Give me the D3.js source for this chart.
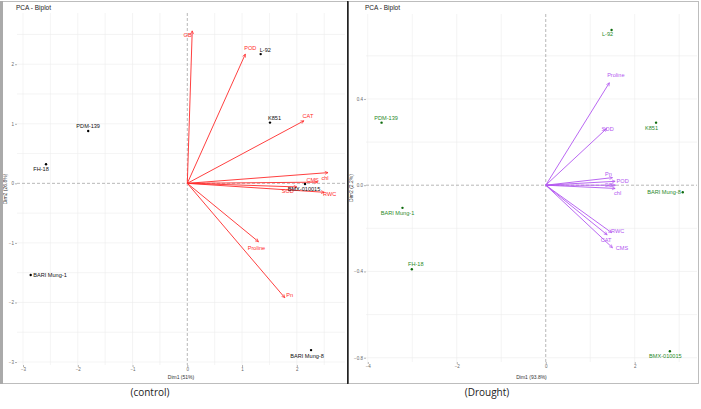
<!DOCTYPE html>
<html>
<head>
<meta charset="utf-8">
<script src="https://cdn.jsdelivr.net/npm/d3@7"></script>
<style>
  body { margin: 0; background: #fff; }
  svg { display: block; font-family: "Liberation Sans", Arial, sans-serif; }
</style>
</head>
<body>
<svg id="chart" width="701" height="409"></svg>
<script>
// ---- control panel data ----
var ctrlGenotypes = ["PDM-139", "FH-18", "BARI Mung-1", "L-92", "K851", "BMX-010015", "BARI Mung-8"];
var ctrlDim1 = [-1.81, -2.58, -2.86, 1.34, 1.51, 2.15, 2.26];
var ctrlDim2 = [0.88, 0.32, -1.54, 2.17, 1.02, -0.01, -2.80];
var ctrlVars = ["GB", "POD", "CAT", "chl", "CMS", "SOD", "RWC", "Proline", "Pn"];
var ctrlVarDim1 = [0.09, 1.06, 2.13, 2.57, 2.38, 2.00, 2.50, 1.30, 1.78];
var ctrlVarDim2 = [2.56, 2.17, 1.05, 0.18, 0.02, -0.06, -0.15, -0.98, -1.92];
var ctrlXTicks = [-3, -2, -1, 0, 1, 2];
var ctrlYTicks = [-3, -2, -1, 0, 1, 2];

// ---- drought panel data ----
var drGenotypes = ["L-92", "PDM-139", "K851", "BARI Mung-8", "BARI Mung-1", "FH-18", "BMX-010015"];
var drDim1 = [1.48, -3.69, 2.48, 3.08, -3.22, -3.01, 2.79];
var drDim2 = [0.72, 0.29, 0.29, -0.033, -0.105, -0.39, -0.77];
var drVars = ["Proline", "SOD", "Pn", "POD", "GB", "chl", "RWC", "CAT", "CMS"];
var drVarDim1 = [1.43, 1.37, 1.50, 1.56, 1.57, 1.56, 1.48, 1.38, 1.50];
var drVarDim2 = [0.475, 0.263, 0.035, 0.018, 0.0, -0.015, -0.22, -0.23, -0.29];
var drXTicks = [-4, -2, 0, 2];
var drYTicks = [-0.8, -0.4, 0, 0.4];

// label nudges [dx, dy, anchor]
var ctrlPointNudge = {
  "PDM-139": [0, -3, "middle"], "FH-18": [-5, 7, "middle"], "BARI Mung-1": [2.5, 2, "start"],
  "L-92": [-1, -2, "start"], "K851": [-2, -2.5, "start"], "BMX-010015": [-1, 7, "middle"],
  "BARI Mung-8": [-4, 7.5, "middle"]
};
var ctrlVarNudge = {
  "GB": [-4.6, 6.5, "middle"], "POD": [5, -4, "middle"], "CAT": [4, -3, "middle"],
  "chl": [-3, 7.5, "middle"], "CMS": [-5, 0, "middle"], "SOD": [-9, 6.5, "middle"],
  "RWC": [5.5, 4, "middle"], "Proline": [-2, 8, "middle"], "Pn": [5, -1, "middle"]
};
var drPointNudge = {
  "L-92": [-4, 6.5, "middle"], "PDM-139": [4.5, -2.5, "middle"], "K851": [-4.5, 7, "middle"],
  "BARI Mung-8": [-2, 2, "end"], "BARI Mung-1": [-5, 7, "middle"], "FH-18": [4, -3, "middle"],
  "BMX-010015": [-4.5, 7, "middle"]
};
var drVarNudge = {
  "Proline": [6.5, -6, "middle"], "SOD": [1, 3, "middle"], "Pn": [-4, -1.5, "middle"],
  "POD": [7.5, 2, "middle"], "GB": [-7, 1.5, "middle"], "chl": [2.5, 7, "middle"],
  "RWC": [6, 0, "middle"], "CAT": [-1, 7, "middle"], "CMS": [9.5, 2, "middle"]
};

var svg = d3.select("#chart");
var defs = svg.append("defs");

function makeArrow(id, col) {
  defs.append("marker")
      .attr("id", id)
      .attr("viewBox", "-6 -4 8 8")
      .attr("markerWidth", 5)
      .attr("markerHeight", 5)
      .attr("markerUnits", "userSpaceOnUse")
      .attr("orient", "auto")
    .append("path")
      .attr("d", "M-5,-2.5 L0,0 L-5,2.5")
      .style("fill", "none")
      .style("stroke", col)
      .style("stroke-width", 1);
}
makeArrow("arrRed", "#ff2a2a");
makeArrow("arrPurple", "#b257f0");

function biplot(cfg) {
  var x = d3.scaleLinear().domain(cfg.xDomain).range(cfg.xRange);
  var y = d3.scaleLinear().domain(cfg.yDomain).range(cfg.yRange);
  var g = svg.append("g");

  // minor + major grid
  g.selectAll(".gx").data(cfg.xGrid).enter().append("line")
      .attr("x1", d => x(d)).attr("x2", d => x(d))
      .attr("y1", cfg.yRange[1]).attr("y2", cfg.yRange[0])
      .style("stroke", "#ececec").style("stroke-width", 0.6);
  g.selectAll(".gy").data(cfg.yGrid).enter().append("line")
      .attr("y1", d => y(d)).attr("y2", d => y(d))
      .attr("x1", cfg.xRange[0]).attr("x2", cfg.xRange[1])
      .style("stroke", "#ececec").style("stroke-width", 0.6);

  // axes
  var xAxis = d3.axisBottom(x).tickValues(cfg.xTicks).tickSize(2).tickPadding(1).tickFormat(cfg.xFmt);
  var yAxis = d3.axisLeft(y).tickValues(cfg.yTicks).tickSize(2).tickPadding(1).tickFormat(cfg.yFmt);
  var ax = g.append("g").attr("transform", "translate(0," + cfg.yRange[0] + ")").call(xAxis);
  var ay = g.append("g").attr("transform", "translate(" + cfg.xRange[0] + ",0)").call(yAxis);
  [ax, ay].forEach(function(a) {
    a.select(".domain").remove();
    a.selectAll("line").style("stroke", "#666").style("stroke-width", 0.5);
    a.selectAll("text").style("font-size", "4.5px").style("fill", "#666");
  });

  // zero lines
  g.append("line")
      .attr("x1", x(0)).attr("x2", x(0)).attr("y1", cfg.yRange[1]).attr("y2", cfg.yRange[0])
      .style("stroke", "#999").style("stroke-width", 0.7).style("stroke-dasharray", "3,2");
  g.append("line")
      .attr("y1", y(0)).attr("y2", y(0)).attr("x1", cfg.xRange[0]).attr("x2", cfg.xRange[1])
      .style("stroke", "#999").style("stroke-width", 0.7).style("stroke-dasharray", "3,2");

  // variable arrows
  var vars = cfg.vars.map((v, i) => ({name: v, d1: cfg.vd1[i], d2: cfg.vd2[i]}));
  g.selectAll(".arrow").data(vars).enter().append("line")
      .attr("x1", x(0)).attr("y1", y(0))
      .attr("x2", d => x(d.d1)).attr("y2", d => y(d.d2))
      .style("stroke", cfg.varCol).style("stroke-width", 0.9)
      .attr("marker-end", "url(#" + cfg.marker + ")");
  g.selectAll(".vlab").data(vars).enter().append("text")
      .attr("x", d => x(d.d1) + cfg.varNudge[d.name][0])
      .attr("y", d => y(d.d2) + cfg.varNudge[d.name][1])
      .attr("text-anchor", d => cfg.varNudge[d.name][2])
      .style("font-size", "5.6px").style("fill", cfg.varCol)
      .text(d => d.name);

  // individuals
  var pts = cfg.names.map((n, i) => ({name: n, d1: cfg.d1[i], d2: cfg.d2[i]}));
  g.selectAll(".pt").data(pts).enter().append("circle")
      .attr("cx", d => x(d.d1)).attr("cy", d => y(d.d2)).attr("r", 1.2)
      .style("fill", cfg.ptCol);
  g.selectAll(".plab").data(pts).enter().append("text")
      .attr("x", d => x(d.d1) + cfg.ptNudge[d.name][0])
      .attr("y", d => y(d.d2) + cfg.ptNudge[d.name][1])
      .attr("text-anchor", d => cfg.ptNudge[d.name][2])
      .style("font-size", "5.6px").style("fill", cfg.labCol)
      .text(d => d.name);

  // titles
  g.append("text").attr("x", cfg.xRange[0] - 1).attr("y", 10)
      .style("font-size", "6.5px").style("fill", "#222").text("PCA - Biplot");
  g.append("text")
      .attr("x", (cfg.xRange[0] + cfg.xRange[1]) / 2).attr("y", 379)
      .attr("text-anchor", "middle").style("font-size", "5px").style("fill", "#333")
      .text(cfg.xTitle);
  g.append("text")
      .attr("transform", "translate(" + cfg.yTitleX + "," + (cfg.yRange[0] + cfg.yRange[1]) / 2 + ") rotate(-90)")
      .attr("text-anchor", "middle").style("font-size", "5px").style("fill", "#333")
      .text(cfg.yTitle);
}

biplot({
  xDomain: [-3.11, 2.88], xRange: [17, 345],
  yDomain: [-3.05, 2.86], yRange: [365, 13],
  xTicks: ctrlXTicks, yTicks: ctrlYTicks,
  xGrid: [-3, -2.5, -2, -1.5, -1, -0.5, 0.5, 1, 1.5, 2, 2.5],
  yGrid: [-3, -2.5, -2, -1.5, -1, -0.5, 0.5, 1, 1.5, 2, 2.5],
  xFmt: d3.format("d"), yFmt: d3.format("d"),
  names: ctrlGenotypes, d1: ctrlDim1, d2: ctrlDim2,
  vars: ctrlVars, vd1: ctrlVarDim1, vd2: ctrlVarDim2,
  varNudge: ctrlVarNudge, ptNudge: ctrlPointNudge,
  varCol: "#ff2a2a", marker: "arrRed", ptCol: "#000", labCol: "#111",
  xTitle: "Dim1 (51%)", yTitle: "Dim2 (26.8%)", yTitleX: 7
});

biplot({
  xDomain: [-4.04, 3.4], xRange: [366, 697],
  yDomain: [-0.82, 0.794], yRange: [362, 14],
  xTicks: drXTicks, yTicks: drYTicks,
  xGrid: [-4, -3, -2, -1, 1, 2, 3],
  yGrid: [-0.8, -0.6, -0.4, -0.2, 0.2, 0.4, 0.6],
  xFmt: d3.format("d"), yFmt: d3.format(".1f"),
  names: drGenotypes, d1: drDim1, d2: drDim2,
  vars: drVars, vd1: drVarDim1, vd2: drVarDim2,
  varNudge: drVarNudge, ptNudge: drPointNudge,
  varCol: "#b257f0", marker: "arrPurple", ptCol: "#0d6b0d", labCol: "#2a8a2a",
  xTitle: "Dim1 (93.8%)", yTitle: "Dim2 (2.2%)", yTitleX: 353
});

// panel frames
svg.append("rect").attr("x", 1.5).attr("y", 1.5).attr("width", 346).attr("height", 382)
    .style("fill", "none").style("stroke", "#bdbdbd").style("stroke-width", 1);
svg.append("line").attr("x1", 1.5).attr("x2", 1.5).attr("y1", 1).attr("y2", 384)
    .style("stroke", "#aaa").style("stroke-width", 3);
svg.append("rect").attr("x", 348.5).attr("y", 1.5).attr("width", 350).attr("height", 382)
    .style("fill", "none").style("stroke", "#bdbdbd").style("stroke-width", 1);
svg.append("line").attr("x1", 347.8).attr("x2", 347.8).attr("y1", 1).attr("y2", 384)
    .style("stroke", "#222").style("stroke-width", 1.6);

// captions
var captions = ["(control)", "(Drought)"];
var captionX = d3.scalePoint().domain(captions).range([150, 487]);
svg.selectAll(".cap").data(captions).enter().append("text")
    .attr("x", d => captionX(d)).attr("y", 396)
    .attr("text-anchor", "middle")
    .style("font-family", "'Open Sans', sans-serif").style("font-size", "10px").style("fill", "#222")
    .text(d => d);
</script>
</body>
</html>
